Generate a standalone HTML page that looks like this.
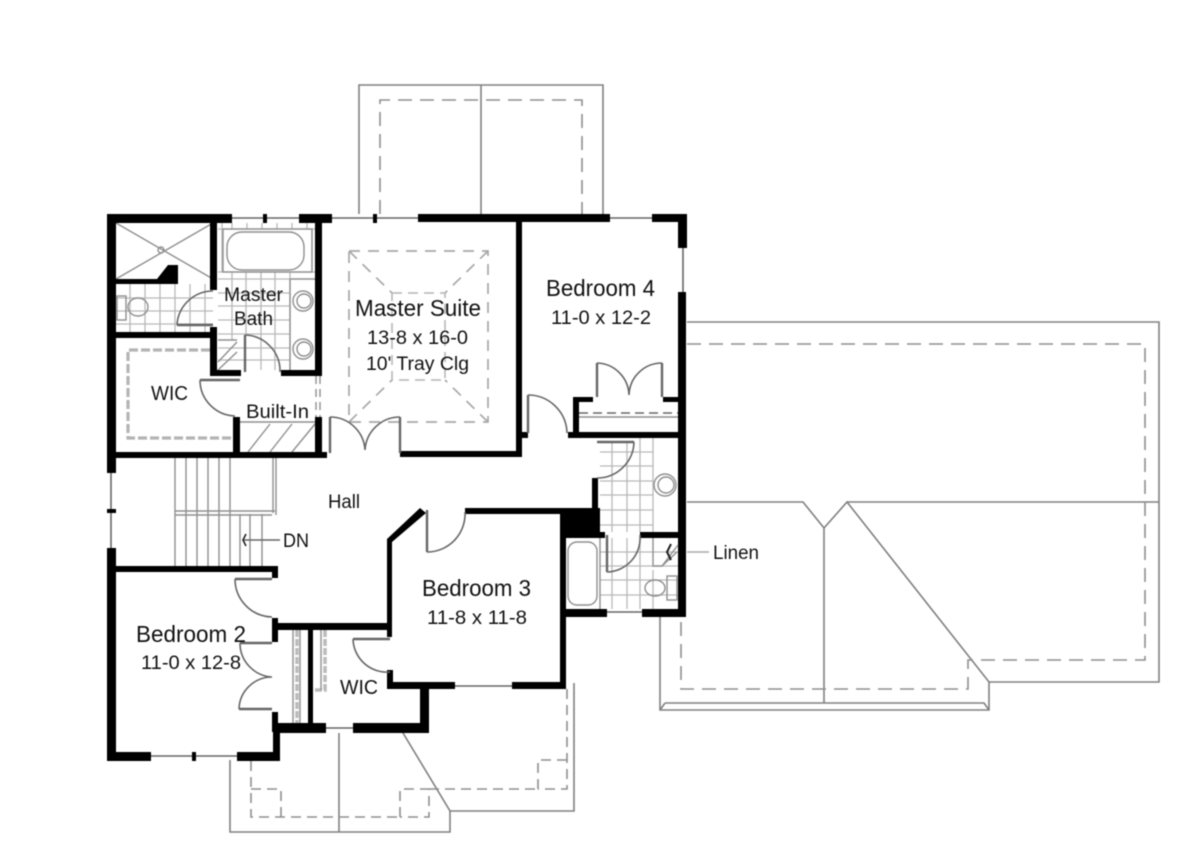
<!DOCTYPE html>
<html><head><meta charset="utf-8"><style>
html,body{margin:0;padding:0;background:#fff}
svg{display:block;filter:blur(.6px)}
.r{fill:none;stroke:#808080;stroke-width:1.6}
.d{fill:none;stroke:#8f8f8f;stroke-width:1.6;stroke-dasharray:14 8}
.b{fill:none;stroke:#8f8f8f;stroke-width:1.6;stroke-dasharray:10 6}
.t{fill:none;stroke:#b8b8b8;stroke-width:1.3}
.f{fill:none;stroke:#8f8f8f;stroke-width:1.4}
.o{fill:none;stroke:#666;stroke-width:1.6}
.k{fill:none;stroke:#666;stroke-width:2.4}
.w{fill:#000}
text{font-family:"Liberation Sans",sans-serif;fill:#111}
</style></head><body>
<svg width="1200" height="856" viewBox="0 0 1200 856" xmlns="http://www.w3.org/2000/svg">
<!-- top porch roof -->
<path class="r" d="M359 214V85H603V214M481 85V214"/>
<path class="d" d="M380 214V100H582V214"/>
<!-- garage roof -->
<path class="r" d="M687 322H1159V682H989L847 502L824 528L803 502H687M847 502H1159M660 617V710H989V682M665 703H984L989 710M665 703L660 710M824 528V703"/>
<path class="d" d="M687 344H1145V660H968V689H681V617"/>
<!-- lower porch roof -->
<path class="r" d="M230 760V832H450V811L403 733M450 811H574V683M339 733V832"/>
<path class="b" d="M251 761V817H400"/>
<path class="b" d="M251 789H281V817M400 817V789H429V817H400M429 789H538M538 789V760H567M567 689V789H538"/>
<!-- tray ceiling -->
<path d="M349 251H488V422H349ZM349 251L392 293M488 251L445 293M349 422L392 380M488 422L445 380" fill="none" stroke="#a8a8a8" stroke-width="1.7" stroke-dasharray="11 8"/>
<path d="M392 293H445V380H392Z" fill="none" stroke="#b4b4b4" stroke-width="1.5" stroke-dasharray="10 6"/>
<!-- tile grids -->
<path class="t" d="M218 229H315M218 272H315M218 279H290M218 293H290M218 306H290M218 320H290M218 334H290M218 348H290M218 360H290M222 223V272M232 223V229M247 223V229M262 223V229M277 223V229M292 223V229M307 223V229M232 272V340M246 272V335M261 272V370M275 272V370M290 272V370M312 229V272"/>
<path class="t" d="M116 298H213M116 311H213M116 324H213M130 284V332M145 284V332M160 284V332M175 284V332M190 284V332M205 284V332"/>
<path class="t" d="M600 452H653M600 466H653M600 481H653M600 495H653M600 510H653M600 525H653M640 438V532M627 442V532M612 442V532M653 438V532M612 538V609M627 538V609M640 538V609M653 570V609M600 552H678M600 566H678M600 580H678M600 595H678"/>
<!-- shower -->
<path class="f" d="M116 223L213 279M213 223L116 279M161 250m-3 0a3 3 0 1 0 6 0a3 3 0 1 0 -6 0"/>
<!-- tub master -->
<rect class="f" x="223" y="229" width="89" height="43"/>
<rect class="f" x="227" y="232" width="77" height="38" rx="15"/>
<!-- toilet master -->
<ellipse class="f" cx="138" cy="307" rx="10" ry="9"/>
<rect class="f" x="117" y="296" width="9" height="24"/>
<!-- sinks -->
<path class="f" d="M290 279V370M315 279H290"/>
<circle class="f" cx="303" cy="301" r="10"/><circle class="f" cx="304" cy="301" r="7"/>
<circle class="f" cx="303" cy="349" r="10"/><circle class="f" cx="304" cy="349" r="7"/>
<!-- hatch -->
<path class="f" d="M218 340H237M218 362L237 342M218 370L237 352M240 422H315M248 452L270 424M270 452L292 424M292 452L315 424"/>
<!-- built-in dashes -->
<path class="f" d="M316 376V417M320 376V417" stroke-dasharray="8 5"/>
<!-- WIC shelves -->
<path d="M210 350H128V438H233" fill="none" stroke="#b4b4b4" stroke-width="3.2" stroke-dasharray="9 3"/>
<path d="M297 630V723M325 630V690H313" fill="none" stroke="#bbb" stroke-width="3.5" stroke-dasharray="7 2"/>
<path class="f" d="M293 630V723M300 630V723M321 630V690"/>
<!-- stairs -->
<path class="f" d="M175 457V566M186 457V566M197 457V566M208 457V566M219 457V566M230 457V566M240 514V566M250 514V566M262 514V566M175 511H275M175 515H272M273 457V513M276 457V515"/>
<path class="o" d="M280 540H243"/>
<path d="M246 534L243 540L246 546" fill="none" stroke="#222" stroke-width="1.6"/>
<!-- windows -->
<path class="o" d="M232 218H299M322 218H418M610 218H652M683 248V292M111 473V548M151 756H237M326 728H353M455 686H512M607 612H642"/>
<rect class="w" x="263" y="214" width="4" height="9"/>
<rect class="w" x="373" y="214" width="4" height="9"/>
<rect class="w" x="107" y="509" width="9" height="4"/>
<rect class="w" x="192" y="752" width="4" height="9"/>
<!-- walls -->
<rect class="w" x="107" y="214" width="125" height="9"/>
<rect class="w" x="107" y="214" width="9" height="259"/>
<rect class="w" x="107" y="548" width="9" height="213"/>
<rect class="w" x="107" y="752" width="44" height="9"/>
<rect class="w" x="299" y="214" width="33" height="9"/>
<rect class="w" x="315" y="214" width="7" height="161"/>
<rect class="w" x="315" y="417" width="7" height="40"/>
<rect class="w" x="116" y="452" width="211" height="6"/>
<rect class="w" x="233" y="417" width="7" height="36"/>
<rect class="w" x="210" y="223" width="7" height="67"/>
<rect class="w" x="210" y="327" width="7" height="48"/>
<rect class="w" x="116" y="332" width="97" height="6"/>
<rect class="w" x="210" y="370" width="31" height="6"/>
<rect class="w" x="281" y="370" width="41" height="6"/>
<polygon class="w" points="116,279 157,279 168,265 178,265 178,284 116,284"/>
<rect class="w" x="418" y="214" width="192" height="8"/>
<rect class="w" x="652" y="214" width="35" height="8"/>
<rect class="w" x="678" y="214" width="9" height="34"/>
<rect class="w" x="678" y="292" width="8" height="325"/>
<rect class="w" x="516" y="218" width="6" height="239"/>
<rect class="w" x="400" y="451" width="122" height="6"/>
<rect class="w" x="522" y="432" width="6" height="6"/>
<rect class="w" x="568" y="432" width="110" height="6"/>
<rect class="w" x="573" y="397" width="6" height="36"/>
<rect class="w" x="573" y="397" width="20" height="5"/>
<rect class="w" x="663" y="397" width="16" height="5"/>
<rect class="w" x="592" y="478" width="6" height="34"/>
<polygon class="w" points="560,508 600,508 600,532 605,532 605,538 566,538 566,609 607,609 607,617 566,617 566,689 512,689 512,682 560,682"/>
<rect class="w" x="465" y="508" width="96" height="6"/>
<rect class="w" x="640" y="532" width="38" height="6"/>
<rect class="w" x="642" y="609" width="44" height="8"/>
<polygon class="w" points="420,508 426,513 392,542 392,637 387,637 387,539"/>
<rect class="w" x="387" y="670" width="6" height="19"/>
<rect class="w" x="387" y="682" width="68" height="7"/>
<rect class="w" x="420" y="684" width="9" height="49"/>
<rect class="w" x="353" y="723" width="76" height="10"/>
<rect class="w" x="277" y="723" width="49" height="10"/>
<rect class="w" x="272" y="712" width="6" height="20"/>
<rect class="w" x="273" y="723" width="7" height="38"/>
<rect class="w" x="237" y="752" width="43" height="9"/>
<rect class="w" x="272" y="618" width="6" height="24"/>
<rect class="w" x="272" y="623" width="120" height="7"/>
<rect class="w" x="308" y="630" width="5" height="95"/>
<rect class="w" x="116" y="566" width="162" height="6"/>
<rect class="w" x="272" y="566" width="6" height="12"/>
<!-- doors -->
<path class="k" d="M330 453V417M400 453V417M528 433V395M597 397V363M662 397V363M597 442H634M607 535V572M427 510V552M235 579H272M240 643H272M239 709H272M353 639H390M200 380H240M245 372V335M177 325H213"/>
<path class="o" d="M330 417A35 35 0 0 1 365 450M400 417A35 35 0 0 0 365 450M528 395A39 39 0 0 1 567 433M597 363A33 33 0 0 1 629 395M662 363A33 33 0 0 0 629 395M634 442A37 37 0 0 1 597 478M607 572A34 34 0 0 0 640 535M427 552A38 38 0 0 0 465 512M235 579A38 38 0 0 0 272 617M240 643A34 34 0 0 0 272 677M239 709A33 33 0 0 1 272 677M353 639A34 34 0 0 0 390 672M200 380A36 36 0 0 0 235 416M245 335A36 36 0 0 1 280 372M177 325A36 36 0 0 1 213 291"/>
<path class="o" d="M579 413H678" stroke-dasharray="9 5"/>
<path class="f" d="M579 417H678"/>
<!-- tub bath -->
<rect class="f" x="568" y="542" width="29" height="63" rx="9"/>
<path class="f" d="M600 538V609"/>
<!-- bath fixtures -->
<circle class="f" cx="665" cy="485" r="11"/><circle class="f" cx="666" cy="485" r="8"/>
<ellipse class="f" cx="655" cy="588" rx="10" ry="8"/>
<rect class="f" x="667" y="576" width="10" height="24"/>
<path class="f" d="M653 538V566H662L677 552M678 545L662 566"/>
<path d="M671 544L667 552L671 560" fill="none" stroke="#222" stroke-width="2"/>
<path d="M687 552H709" fill="none" stroke="#aaa" stroke-width="1.5"/>
<!-- labels -->
<text x="355" y="316" font-size="23" textLength="126" lengthAdjust="spacingAndGlyphs">Master Suite</text>
<text x="367" y="344" font-size="19" textLength="101" lengthAdjust="spacingAndGlyphs">13-8 x 16-0</text>
<text x="366" y="370" font-size="19" textLength="103" lengthAdjust="spacingAndGlyphs">10' Tray Clg</text>
<text x="546" y="296" font-size="23" textLength="109" lengthAdjust="spacingAndGlyphs">Bedroom 4</text>
<text x="551" y="324" font-size="19" textLength="100" lengthAdjust="spacingAndGlyphs">11-0 x 12-2</text>
<text x="224" y="301" font-size="19" textLength="59" lengthAdjust="spacingAndGlyphs">Master</text>
<text x="234" y="325" font-size="19" textLength="39" lengthAdjust="spacingAndGlyphs">Bath</text>
<text x="151" y="400" font-size="20" textLength="37" lengthAdjust="spacingAndGlyphs">WIC</text>
<text x="246" y="418" font-size="19" textLength="63" lengthAdjust="spacingAndGlyphs">Built-In</text>
<text x="328" y="508" font-size="19" textLength="32" lengthAdjust="spacingAndGlyphs">Hall</text>
<text x="283" y="547" font-size="19" textLength="26" lengthAdjust="spacingAndGlyphs">DN</text>
<text x="136" y="642" font-size="23" textLength="110" lengthAdjust="spacingAndGlyphs">Bedroom 2</text>
<text x="141" y="669" font-size="19" textLength="100" lengthAdjust="spacingAndGlyphs">11-0 x 12-8</text>
<text x="422" y="596" font-size="23" textLength="109" lengthAdjust="spacingAndGlyphs">Bedroom 3</text>
<text x="427" y="624" font-size="19" textLength="100" lengthAdjust="spacingAndGlyphs">11-8 x 11-8</text>
<text x="340" y="694" font-size="20" textLength="38" lengthAdjust="spacingAndGlyphs">WIC</text>
<text x="713" y="559" font-size="19" textLength="46" lengthAdjust="spacingAndGlyphs">Linen</text>
</svg>
</body></html>
